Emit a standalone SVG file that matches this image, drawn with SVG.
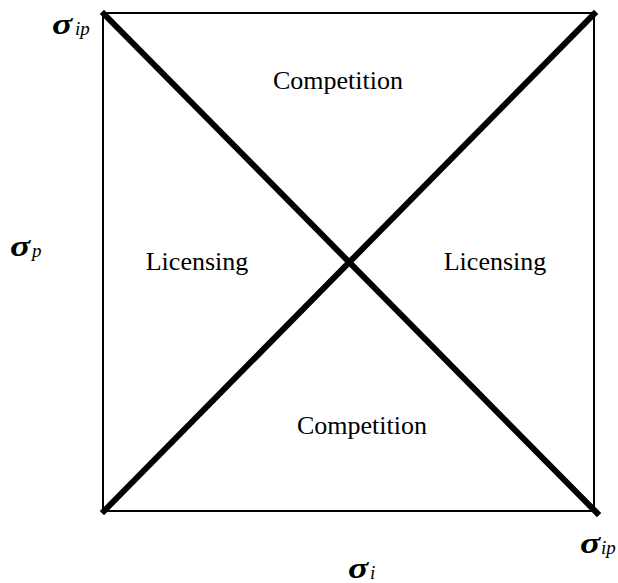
<svg xmlns="http://www.w3.org/2000/svg" width="618" height="583" viewBox="0 0 618 583">
<style>
.lbl{font-family:"Liberation Serif","Times New Roman",serif;font-size:26px;fill:#000}
.sym{font-family:"Liberation Serif","Times New Roman",serif;font-style:italic;font-weight:bold;font-size:30px;fill:#000}
.sub{font-family:"Liberation Serif","Times New Roman",serif;font-style:italic;font-size:19px;fill:#000}
.thin{stroke:#000;stroke-width:2;fill:none}
.thick{stroke:#000;stroke-width:6;fill:none;stroke-linecap:square}
</style>
<rect width="618" height="583" fill="#fff"/>
<g id="frame"><rect class="thin" x="103" y="13" width="491" height="498"/></g>
<g id="connectors">
<line class="thick" x1="104" y1="14" x2="597" y2="513"/>
<line class="thick" x1="104" y1="511" x2="594" y2="14"/>
</g>
<g id="top-region"><text class="lbl" x="338" y="89" text-anchor="middle">Competition</text></g>
<g id="bottom-region"><text class="lbl" x="362" y="434" text-anchor="middle">Competition</text></g>
<g id="left-region"><text class="lbl" x="197" y="270" text-anchor="middle">Licensing</text></g>
<g id="right-region"><text class="lbl" x="495" y="270" text-anchor="middle">Licensing</text></g>
<g id="sigma-ip-top"><text class="sym" transform="translate(52,34) scale(1.25,1)">σ</text><text class="sub" x="75" y="35">ip</text></g>
<g id="sigma-p"><text class="sym" transform="translate(10,256) scale(1.25,1)">σ</text><text class="sub" x="32" y="257">p</text></g>
<g id="sigma-i"><text class="sym" transform="translate(348,578) scale(1.25,1)">σ</text><text class="sub" x="370" y="579">i</text></g>
<g id="sigma-ip-bottom"><text class="sym" transform="translate(580,553) scale(1.25,1)">σ</text><text class="sub" x="601" y="554">ip</text></g>
</svg>
